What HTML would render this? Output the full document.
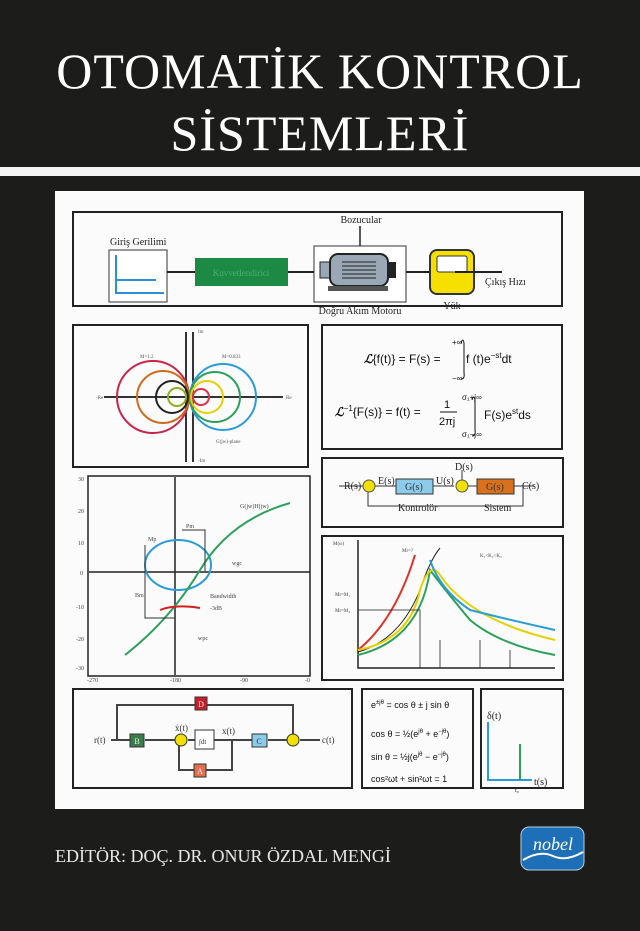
<!DOCTYPE html><html><head><meta charset="utf-8"><style>
body{margin:0;background:#1c1d1b;width:640px;height:931px;overflow:hidden;font-family:"Liberation Serif",serif}
svg{position:absolute;left:0;top:0}
</style></head><body>
<svg width="640" height="931" viewBox="0 0 640 931" font-family="Liberation Serif, serif">
<rect width="640" height="931" fill="#1c1d1b"/>
<text x="320" y="88" fill="#fff" font-size="50" text-anchor="middle" letter-spacing="1">OTOMATİK KONTROL</text>
<text x="320" y="150" fill="#fff" font-size="50" text-anchor="middle" letter-spacing="1">SİSTEMLERİ</text>
<rect x="0" y="167" width="640" height="9" fill="#f4f4f4"/>
<rect x="55" y="191" width="529" height="618" fill="#fbfbfb"/>
<g fill="none" stroke="#222" stroke-width="2">
<rect x="73" y="212" width="489" height="94"/>
<rect x="73" y="325" width="235" height="142"/>
<rect x="322" y="325" width="240" height="124"/>
<rect x="322" y="458" width="241" height="69"/>
<rect x="88" y="476" width="222" height="200" stroke-width="1.5"/>
<rect x="322" y="536" width="241" height="144"/>
<rect x="73" y="689" width="279" height="99"/>
<rect x="362" y="689" width="111" height="99"/>
<rect x="481" y="689" width="82" height="99"/>
</g>
<g font-size="10" fill="#222">
<text x="110" y="245">Giriş Gerilimi</text>
<rect x="109" y="250" width="58" height="52" fill="#fff" stroke="#333"/>
<path d="M116 255V293H164M116 280H156" stroke="#2a8fd6" stroke-width="2" fill="none"/>
<line x1="167" y1="272" x2="195" y2="272" stroke="#222" stroke-width="2"/>
<rect x="195" y="258" width="93" height="28" fill="#1c8a44"/>
<text x="241" y="276" fill="#4cb070" text-anchor="middle" font-size="9">Kuvvetlendirici</text>
<line x1="288" y1="272" x2="314" y2="272" stroke="#222" stroke-width="2"/>
<text x="361" y="223" text-anchor="middle">Bozucular</text>
<line x1="360" y1="226" x2="360" y2="246" stroke="#222" stroke-width="1.5"/>
<rect x="314" y="246" width="92" height="56" fill="#fff" stroke="#333"/>
<rect x="320" y="262" width="10" height="16" fill="#9aa8b5" stroke="#222"/>
<rect x="330" y="254" width="58" height="32" rx="8" fill="#9aa8b5" stroke="#222" stroke-width="2"/>
<path d="M342 262h34M342 266h34M342 270h34M342 274h34M342 278h34" stroke="#222"/>
<rect x="388" y="262" width="8" height="16" fill="#222"/>
<rect x="328" y="286" width="60" height="5" fill="#555"/>
<text x="360" y="314" text-anchor="middle">Doğru Akım Motoru</text>
<line x1="406" y1="272" x2="430" y2="272" stroke="#222" stroke-width="2"/>
<rect x="430" y="250" width="44" height="44" rx="7" fill="#f5e000" stroke="#333" stroke-width="2"/>
<rect x="437" y="256" width="30" height="16" rx="2" fill="#fff" stroke="#333"/>
<line x1="455" y1="272" x2="502" y2="272" stroke="#222" stroke-width="2"/>
<text x="452" y="309" text-anchor="middle">Yük</text>
<text x="485" y="285">Çıkış Hızı</text>
</g>
<g fill="none" stroke-width="2">
<line x1="104" y1="397" x2="283" y2="397" stroke="#333"/>
<line x1="186" y1="332" x2="186" y2="462" stroke="#333"/>
<line x1="193" y1="332" x2="193" y2="462" stroke="#333"/>
<circle cx="153" cy="397" r="36" stroke="#c8254b"/>
<circle cx="163" cy="397" r="26" stroke="#d06c1f"/>
<circle cx="172" cy="397" r="16" stroke="#222"/>
<circle cx="177" cy="397" r="9" stroke="#8fb020"/>
<circle cx="223" cy="397" r="33" stroke="#2a9cd6"/>
<circle cx="215" cy="397" r="25" stroke="#2ca05a"/>
<circle cx="207" cy="397" r="16" stroke="#e6d000"/>
<circle cx="201" cy="397" r="8" stroke="#e0304a"/>
</g>
<g font-size="5" fill="#555"><text x="96" y="399">-Re</text><text x="286" y="399">Re</text><text x="198" y="333">Im</text><text x="198" y="462">-Im</text><text x="216" y="443">G(jw)-plane</text><text x="140" y="358">M=1.2</text><text x="222" y="358">M=0.833</text></g>
<g font-family="Liberation Sans, sans-serif" fill="#111" font-size="12">
<text x="364" y="363"><tspan font-weight="bold" font-style="italic">ℒ</tspan>{f(t)} = F(s) =</text>
<text x="466" y="363">f (t)e<tspan font-size="8" dy="-5">−st</tspan><tspan dy="5">dt</tspan></text>
<text x="452" y="345" font-size="8">+∞</text><text x="452" y="381" font-size="8">−∞</text>
<path d="M461 343q2-6 3 0v30q1 6 -3 6" stroke="#111" fill="none"/>
<text x="335" y="416"><tspan font-weight="bold" font-style="italic">ℒ</tspan><tspan font-size="8" dy="-5">−1</tspan><tspan dy="5">{F(s)} = f(t) =</tspan></text>
<text x="444" y="408" font-size="11">1</text><line x1="440" y1="412" x2="457" y2="412" stroke="#111"/><text x="439" y="425" font-size="11">2πj</text>
<text x="462" y="400" font-size="8">σ₁+j∞</text><text x="462" y="437" font-size="8">σ₁−j∞</text>
<path d="M472 400q2-6 3 0v30q1 6 -3 6" stroke="#111" fill="none"/>
<text x="484" y="419">F(s)e<tspan font-size="8" dy="-5">st</tspan><tspan dy="5">ds</tspan></text>
</g>
<g font-size="10" fill="#222">
<path d="M339 486H366M372 486H396M433 486H454M460 486H477M514 486H534M523 486V506H368V492M462 470V480" stroke="#333" fill="none"/>
<circle cx="369" cy="486" r="6" fill="#f2e000" stroke="#555"/>
<circle cx="462" cy="486" r="6" fill="#f2e000" stroke="#555"/>
<rect x="396" y="479" width="37" height="15" fill="#8ccbe9" stroke="#333"/>
<rect x="477" y="479" width="37" height="15" fill="#d9701e" stroke="#333"/>
<text x="344" y="489">R(s)</text><text x="378" y="484">E(s)</text><text x="436" y="484">U(s)</text><text x="455" y="470">D(s)</text><text x="522" y="489">C(s)</text>
<text x="405" y="490" fill="#333">G(s)</text><text x="486" y="490" fill="#333">G(s)</text>
<text x="398" y="511">Kontrolör</text><text x="484" y="511">Sistem</text>
</g>
<g fill="none" stroke-width="1.5">
<line x1="89" y1="572" x2="310" y2="572" stroke="#222"/>
<line x1="175" y1="477" x2="175" y2="675" stroke="#222"/>
<ellipse cx="178" cy="565" rx="33" ry="25" stroke="#2a9cd6" stroke-width="2"/>
<path d="M125 655Q170 620 200 570Q230 520 290 503" stroke="#2ca05a" stroke-width="2"/>
<path d="M160 610q15-6 40-2" stroke="#d62020" stroke-width="2"/>
<path d="M145 545V618H175M182 530H205V572" stroke="#333" stroke-width="1"/>
</g>
<g font-size="6" fill="#444"><text x="78" y="481">30</text><text x="78" y="513">20</text><text x="78" y="545">10</text><text x="80" y="575">0</text><text x="76" y="609">-10</text><text x="76" y="641">-20</text><text x="76" y="670">-30</text><text x="87" y="682">-270</text><text x="170" y="682">-180</text><text x="240" y="682">-90</text><text x="305" y="682">-0</text><text x="240" y="508">G(jw)H(jw)</text><text x="148" y="541">Mp</text><text x="186" y="528">Pm</text><text x="210" y="598">Bandwidth</text><text x="210" y="610">-3dB</text><text x="135" y="597">Bm</text><text x="198" y="640">wpc</text><text x="232" y="565">wgc</text></g>
<g fill="none" stroke-width="2">
<path d="M358 540V668H555" stroke="#222" stroke-width="1.5"/>
<path d="M358 650Q395 620 415 555" stroke="#e0302a"/>
<path d="M358 652Q400 640 420 590Q430 560 440 548" stroke="#222" stroke-width="1"/>
<path d="M358 655Q420 640 430 570Q445 590 470 620Q500 645 555 655" stroke="#2ca05a"/>
<path d="M358 650Q410 640 420 590Q430 560 440 575Q470 620 555 640" stroke="#e6d000"/>
<path d="M430 560Q440 590 470 610Q510 620 555 630" stroke="#2a9cd6"/>
<path d="M358 610H420V668M440 640V668M480 640V668M510 650V668" stroke="#222" stroke-width="0.8"/>
</g>
<g font-size="5" fill="#444"><text x="333" y="545">M(ω)</text><text x="480" y="557">K₁&lt;K₂&lt;K₃</text><text x="402" y="552">Mr=?</text><text x="335" y="596">Mr=M₁</text><text x="335" y="612">Mr=M₂</text></g>
<g font-size="9" fill="#333">
<path d="M117 740V705H195M205 705H293V736M111 740H135M145 740H176M188 740H195M214 740H252M268 740H287M300 740H320M232 740V770H205M194 770H179V746" stroke="#444" stroke-width="2" fill="none"/>
<rect x="195" y="697" width="12" height="13" fill="#c8202a" stroke="#333"/>
<rect x="130" y="734" width="14" height="13" fill="#3a7d4a" stroke="#333"/>
<rect x="195" y="730" width="19" height="19" fill="#fff" stroke="#333"/>
<rect x="252" y="734" width="15" height="13" fill="#8ccbe9" stroke="#333"/>
<rect x="194" y="764" width="12" height="13" fill="#e07050" stroke="#333"/>
<g font-size="8" fill="#eee" text-anchor="middle"><text x="201" y="707">D</text><text x="137" y="744">B</text><text x="259" y="744" fill="#333">C</text><text x="200" y="774">A</text></g>
<circle cx="181" cy="740" r="6" fill="#f2e000" stroke="#333"/><circle cx="293" cy="740" r="6" fill="#f2e000" stroke="#333"/>
<text x="94" y="743">r(t)</text><text x="322" y="743">c(t)</text><text x="175" y="731">ẋ(t)</text><text x="222" y="734">x(t)</text><text x="199" y="744" font-size="7">∫dt</text>
</g>
<g font-family="Liberation Sans, sans-serif" font-size="9" fill="#111">
<text x="371" y="708">e<tspan font-size="6" dy="-4">±jθ</tspan><tspan dy="4"> = cos θ ± j sin θ</tspan></text>
<text x="371" y="737">cos θ = ½(e<tspan font-size="6" dy="-4">jθ</tspan><tspan dy="4"> + e</tspan><tspan font-size="6" dy="-4">−jθ</tspan><tspan dy="4">)</tspan></text>
<text x="371" y="760">sin θ = ½j(e<tspan font-size="6" dy="-4">jθ</tspan><tspan dy="4"> − e</tspan><tspan font-size="6" dy="-4">−jθ</tspan><tspan dy="4">)</tspan></text>
<text x="371" y="782">cos²ωt + sin²ωt = 1</text>
</g>
<g font-size="10" fill="#222"><text x="487" y="719">δ(t)</text><text x="534" y="785">t(s)</text><text x="515" y="792" font-size="6">t₀</text>
<path d="M488 722V780H532" stroke="#2a9cd6" stroke-width="2" fill="none"/><line x1="520" y1="744" x2="520" y2="780" stroke="#2ca05a" stroke-width="2"/></g>
<text x="55" y="862" fill="#e8e8e8" font-size="18">EDİTÖR: DOÇ. DR. ONUR ÖZDAL MENGİ</text>
<rect x="521" y="827" width="63" height="43" rx="8" fill="#1d6fb8" stroke="#bcd" stroke-width="1"/>
<text x="553" y="850" fill="#fff" font-size="18" font-style="italic" text-anchor="middle">nobel</text>
<path d="M523 860Q540 850 553 856Q566 862 583 852" stroke="#fff" stroke-width="2" fill="none"/>
</svg></body></html>
